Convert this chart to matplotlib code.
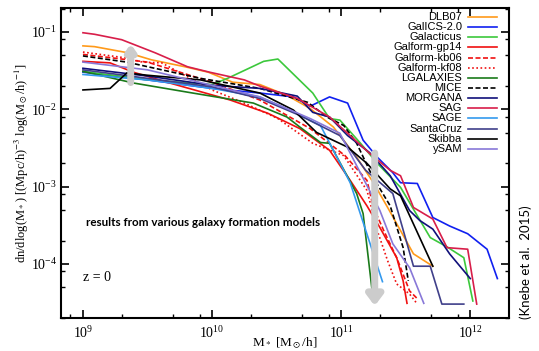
import numpy as np
import matplotlib
matplotlib.use("Agg")
import matplotlib.pyplot as plt
from matplotlib.lines import Line2D
from matplotlib.ticker import LogLocator, NullFormatter

plt.rcParams['font.family'] = ['Liberation Serif', 'DejaVu Serif']
plt.rcParams['mathtext.fontset'] = 'stix'

# stellar mass functions at z=0 (log10 M*, log10 phi)
models = ['DLB07', 'GalICS-2.0', 'Galacticus', 'Galform-gp14', 'Galform-kb06',
          'Galform-kf08', 'LGALAXIES', 'MICE', 'MORGANA', 'SAG', 'SAGE',
          'SantaCruz', 'Skibba', 'ySAM']

dlb07_m = [9.0, 9.09, 9.35, 9.53, 9.79, 9.97, 10.16, 10.37, 10.58, 10.76, 10.94, 11.12, 11.25, 11.36, 11.56, 11.71]
dlb07_p = [-1.18, -1.19, -1.27, -1.36, -1.45, -1.52, -1.65, -1.68, -1.82, -1.99, -2.23, -2.62, -2.95, -3.27, -3.87, -4.03]

galics_m = [9.0, 9.5, 10.0, 10.37, 10.63, 10.76, 10.91, 11.05, 11.17, 11.28, 11.40, 11.46, 11.59, 11.71, 11.84, 11.98, 12.13, 12.21]
galics_p = [-1.52, -1.62, -1.73, -1.79, -1.84, -1.96, -1.84, -1.92, -2.40, -2.62, -2.82, -2.95, -2.96, -3.40, -3.51, -3.61, -3.81, -4.19]

galacticus_m = [9.0, 9.5, 10.0, 10.12, 10.40, 10.51, 10.78, 10.91, 10.99, 11.15, 11.28, 11.46, 11.69, 11.82, 11.95, 12.02]
galacticus_p = [-1.51, -1.62, -1.68, -1.60, -1.38, -1.35, -1.79, -2.12, -2.14, -2.44, -2.70, -3.01, -3.66, -3.78, -3.92, -4.48]

gp14_m = [9.0, 9.21, 9.39, 9.65, 10.14, 10.43, 10.68, 10.91, 11.07, 11.20, 11.30, 11.43, 11.48, 11.51]
gp14_p = [-1.38, -1.40, -1.52, -1.65, -1.88, -2.05, -2.25, -2.53, -2.92, -3.25, -3.53, -3.92, -4.22, -4.51]

kb06_m = [9.0, 9.5, 10.0, 10.37, 10.76, 11.03, 11.20, 11.25, 11.33, 11.43, 11.53, 11.59]
kb06_p = [-1.29, -1.39, -1.65, -1.88, -2.25, -2.60, -2.92, -3.27, -3.57, -3.92, -4.35, -4.45]

kf08_m = [9.0, 9.35, 9.46, 9.61, 10.0, 10.25, 10.51, 10.78, 11.02, 11.20, 11.28, 11.36, 11.43, 11.53, 11.59]
kf08_p = [-1.26, -1.34, -1.39, -1.40, -1.75, -1.92, -2.12, -2.44, -2.60, -3.05, -3.57, -3.96, -4.26, -4.39, -4.52]

lgal_m = [9.0, 9.39, 9.85, 10.32, 10.58, 10.68, 10.84, 10.91, 11.12, 11.17, 11.24]
lgal_p = [-1.51, -1.66, -1.79, -1.92, -2.10, -2.23, -2.43, -2.44, -3.09, -3.35, -4.35]

mice_m = [9.0, 9.34, 9.91, 10.37, 10.74, 10.89, 11.02, 11.12, 11.24, 11.38, 11.48, 11.52]
mice_p = [-1.31, -1.39, -1.60, -1.73, -1.91, -2.10, -2.21, -2.44, -2.86, -3.25, -3.79, -4.22]

morgana_m = [9.0, 9.5, 10.0, 10.37, 10.66, 10.78, 10.91, 11.05, 11.22, 11.38, 11.53, 11.61, 11.71, 11.84, 12.0]
morgana_p = [-1.47, -1.57, -1.69, -1.73, -1.83, -2.04, -2.10, -2.34, -2.56, -2.86, -3.31, -3.44, -3.55, -3.87, -4.19]

sag_m = [9.0, 9.09, 9.30, 9.56, 9.81, 9.98, 10.25, 10.37, 10.66, 10.91, 11.05, 11.22, 11.38, 11.46, 11.56, 11.71, 11.82, 11.98, 12.05]
sag_p = [-1.01, -1.03, -1.10, -1.27, -1.45, -1.52, -1.62, -1.70, -1.86, -2.10, -2.31, -2.57, -2.79, -2.86, -3.27, -3.42, -3.79, -3.81, -4.52]

sage_m = [9.0, 9.5, 10.0, 10.37, 10.60, 10.84, 11.07, 11.32]
sage_p = [-1.55, -1.62, -1.73, -1.84, -2.01, -2.21, -2.95, -4.23]

santacruz_m = [9.0, 9.5, 10.0, 10.37, 10.68, 10.99, 11.19, 11.40, 11.56, 11.69, 11.78, 11.95]
santacruz_p = [-1.49, -1.60, -1.71, -1.86, -2.08, -2.34, -2.79, -3.09, -4.03, -4.03, -4.52, -4.52]

skibba_m = [9.0, 9.21, 9.34, 9.50, 9.91, 10.37, 10.63, 10.81, 11.05, 11.20, 11.38, 11.46, 11.71]
skibba_p = [-1.75, -1.73, -1.53, -1.56, -1.62, -1.79, -2.01, -2.30, -2.49, -2.70, -3.03, -3.12, -4.03]

ysam_m = [9.0, 9.5, 10.0, 10.37, 10.76, 10.99, 11.30, 11.40, 11.53, 11.64]
ysam_p = [-1.39, -1.49, -1.69, -1.84, -2.12, -2.31, -3.31, -3.74, -4.05, -4.51]

series = [
    (dlb07_m, dlb07_p, '#ff9a1a', '-'),
    (galics_m, galics_p, '#1020f0', '-'),
    (galacticus_m, galacticus_p, '#3cc83c', '-'),
    (gp14_m, gp14_p, '#f01010', '-'),
    (kb06_m, kb06_p, '#f01010', (0, (3, 1.5))),
    (kf08_m, kf08_p, '#f01010', (0, (1, 1.5))),
    (lgal_m, lgal_p, '#1a7a1a', '-'),
    (mice_m, mice_p, 'black', (0, (3, 1.5))),
    (morgana_m, morgana_p, '#10107a', '-'),
    (sag_m, sag_p, '#d81e4a', '-'),
    (sage_m, sage_p, '#3399ee', '-'),
    (santacruz_m, santacruz_p, '#40408a', '-'),
    (skibba_m, skibba_p, 'black', '-'),
    (ysam_m, ysam_p, '#8878d8', '-'),
]

fig = plt.figure(figsize=(5.39, 3.51), dpi=100)
ax = fig.add_axes([61 / 539, 33 / 351, 448 / 539, 310 / 351])

for name, (m, p, c, ls) in zip(models, series):
    ax.plot(10 ** np.array(m), 10 ** np.array(p), color=c, ls=ls, lw=1.2, label=name)

ax.set_xscale('log')
ax.set_yscale('log')
ax.set_xlim(10 ** 8.83, 10 ** 12.3)
ax.set_ylim(10 ** -4.70, 10 ** -0.69)

# grey arrows
ax.annotate('', xy=(10 ** 9.37, 10 ** -1.12), xytext=(10 ** 9.37, 10 ** -1.69),
            arrowprops=dict(arrowstyle='-|>,head_length=0.35,head_width=0.25',
                            color='#cccccc', lw=5))
ax.annotate('', xy=(10 ** 11.26, 10 ** -4.58), xytext=(10 ** 11.26, 10 ** -2.53),
            arrowprops=dict(arrowstyle='-|>,head_length=0.6,head_width=0.45',
                            color='#cccccc', lw=5))

for side in ax.spines.values():
    side.set_linewidth(1.5)
ax.tick_params(which='both', direction='in', top=True, right=True, labelsize=10)
ax.tick_params(which='major', length=6, width=1.2, pad=3)
ax.tick_params(which='minor', length=3, width=1.0)
ax.tick_params(axis='x', which='major', pad=5)
ax.xaxis.set_minor_locator(LogLocator(base=10, subs=(2, 5, 8)))
ax.yaxis.set_minor_locator(LogLocator(base=10, subs=(2, 5, 8)))
ax.xaxis.set_minor_formatter(NullFormatter())
ax.yaxis.set_minor_formatter(NullFormatter())

ax.set_xlabel(r'M$_*$ [M$_\odot$/h]', fontsize=9.5)
ax.xaxis.set_label_coords(0.5, -0.055)
ax.set_ylabel(r'dn/dlog(M$_*$) [(Mpc/h)$^{-3}$ log(M$_\odot$/h)$^{-1}$]', fontsize=9)
ax.yaxis.set_label_coords(-0.068, 0.5)

ax.text(10 ** 9.02, 10 ** -3.47, 'results from various galaxy formation models',
        family='Lato', fontweight='bold', fontsize=8.4, va='center')
ax.text(10 ** 9.0, 10 ** -4.17, 'z = 0', fontsize=10, va='center')
fig.text(526 / 539, 1 - 262 / 351, '(Knebe et al.  2015)', family='Lato',
         rotation=90, fontsize=9.5, ha='center', va='center')

# legend drawn by hand: labels right-aligned, line sample to the right
for i, (name, (m, p, c, ls)) in enumerate(zip(models, series)):
    y = 0.971 - i * 0.03274
    ax.add_line(Line2D([0.9085, 0.9732], [y, y], transform=ax.transAxes,
                       color=c, ls=ls, lw=1.2))
    ax.text(0.8951, y, name, transform=ax.transAxes, ha='right', va='center',
            family='Liberation Sans', fontsize=8.0)

fig.savefig('out.png', dpi=100)
